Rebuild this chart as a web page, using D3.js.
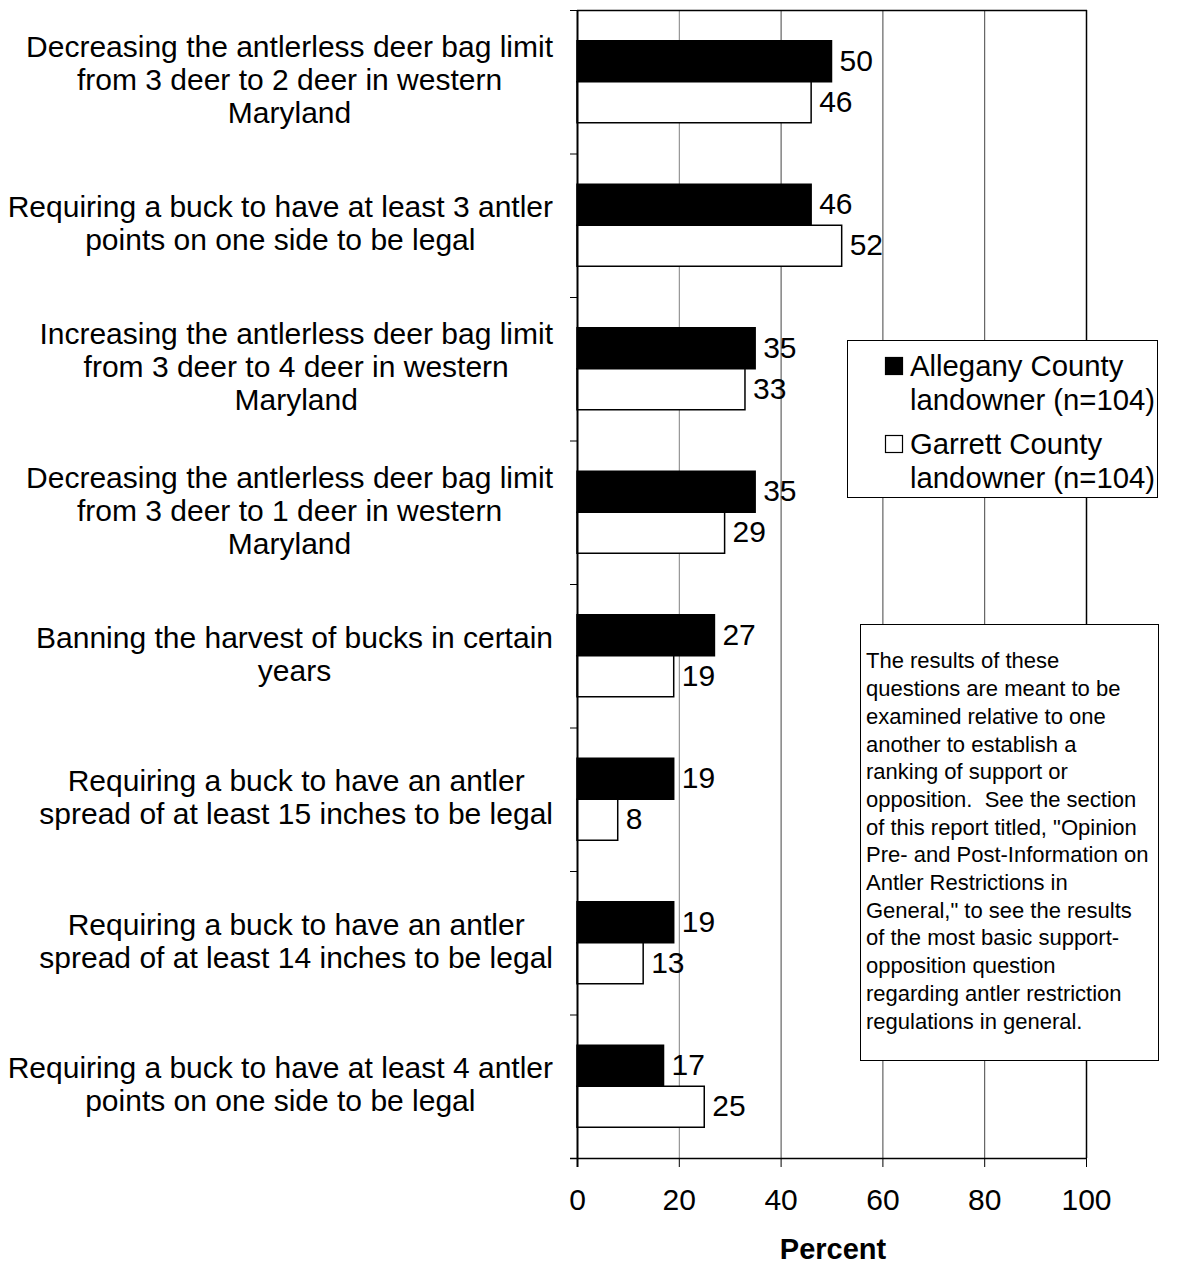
<!DOCTYPE html>
<html>
<head>
<meta charset="utf-8">
<script src="https://cdn.jsdelivr.net/npm/d3@7"></script>
<style>
html,body{margin:0;padding:0;background:#fff;}
svg{display:block;font-family:"Liberation Sans",Arial,sans-serif;}
</style>
</head>
<body>
<svg id="chart" width="1185" height="1264"></svg>
<script>
const categories = [
  ["Decreasing the antlerless deer bag limit","from 3 deer to 2 deer in western","Maryland"],
  ["Requiring a buck to have at least 3 antler","points on one side to be legal"],
  ["Increasing the antlerless deer bag limit","from 3 deer to 4 deer in western","Maryland"],
  ["Decreasing the antlerless deer bag limit","from 3 deer to 1 deer in western","Maryland"],
  ["Banning the harvest of bucks in certain","years"],
  ["Requiring a buck to have an antler","spread of at least 15 inches to be legal"],
  ["Requiring a buck to have an antler","spread of at least 14 inches to be legal"],
  ["Requiring a buck to have at least 4 antler","points on one side to be legal"]
];
const seriesNames = [["Allegany County","landowner (n=104)"],["Garrett County","landowner (n=104)"]];
const allegany = [50, 46, 35, 35, 27, 19, 19, 17];
const garrett  = [46, 52, 33, 29, 19, 8, 13, 25];
const xTicks = [0, 20, 40, 60, 80, 100];
const noteLines = [
  "The results of these",
  "questions are meant to be",
  "examined relative to one",
  "another to establish a",
  "ranking of support or",
  "opposition.  See the section",
  "of this report titled, \"Opinion",
  "Pre- and Post-Information on",
  "Antler Restrictions in",
  "General,\" to see the results",
  "of the most basic support-",
  "opposition question",
  "regarding antler restriction",
  "regulations in general."
];
const xTitle = "Percent";

const svg = d3.select("#chart");
const L = 577, R = 1086, T = 10, B = 1158;
const FS = 30;
const x = d3.scaleLinear().domain([0,100]).range([L,R]);
const y = d3.scaleBand().domain(d3.range(categories.length)).range([T,B]).padding(0);
const ys = d3.scaleBand().domain([0,1]).range([0,y.bandwidth()]).paddingInner(0).paddingOuter(0.75);
const series = [allegany, garrett];
const fills = ["#000","#fff"];

// gridlines
svg.append("g").selectAll("line").data(xTicks.filter(d=>d>0 && d<100)).join("line")
  .attr("x1",d=>x(d)+0.5).attr("x2",d=>x(d)+0.5).attr("y1",T).attr("y2",B)
  .attr("stroke",(d)=>d===20?"#808080":"#444").attr("stroke-width",1);

// plot border top & right
svg.append("line").attr("x1",L).attr("x2",R+1).attr("y1",T+0.5).attr("y2",T+0.5).attr("stroke","#000").attr("stroke-width",1.5);
svg.append("line").attr("x1",R+0.5).attr("x2",R+0.5).attr("y1",T).attr("y2",B).attr("stroke","#000").attr("stroke-width",1.5);

// bars
const g = svg.append("g");
categories.forEach((c,i)=>{
  series.forEach((s,j)=>{
    g.append("rect")
      .attr("x",x(0)).attr("y",y(i)+ys(j))
      .attr("width",x(s[i])-x(0)).attr("height",ys.bandwidth())
      .attr("fill",fills[j]).attr("stroke","#000").attr("stroke-width",1.5);
  });
});

// value labels
categories.forEach((c,i)=>{
  series.forEach((s,j)=>{
    svg.append("text")
      .attr("x",x(s[i])+8).attr("y",y(i)+ys(j)+ys.bandwidth()/2)
      .attr("dy","0.32em").attr("font-size",FS).attr("fill","#000")
      .text(s[i]);
  });
});

// x axis
const xAxis = d3.axisBottom(x).tickValues(xTicks).tickSize(9).tickPadding(22).tickFormat(d3.format("d"));
const ax = svg.append("g").attr("transform",`translate(0,${B})`).call(xAxis);
ax.select(".domain").attr("stroke","#000").attr("stroke-width",1.5).attr("d",`M${L-7},0.5H${R+1}`);
ax.selectAll(".tick line").attr("stroke","#000").attr("stroke-width",1);
ax.selectAll(".tick text").attr("font-size",FS).attr("font-family","Liberation Sans, Arial, sans-serif").attr("fill","#000");

// y axis (left) with ticks at band boundaries
const yb = d3.range(categories.length+1).map(i=> i<categories.length ? y(i) : B);
svg.append("line").attr("x1",L+0.5).attr("x2",L+0.5).attr("y1",T).attr("y2",B+9).attr("stroke","#000").attr("stroke-width",2);
svg.append("g").selectAll("line").data(yb).join("line")
  .attr("x1",L-7).attr("x2",L).attr("y1",d=>d+0.5).attr("y2",d=>d+0.5)
  .attr("stroke","#000").attr("stroke-width",1);

// category labels
const lh = 33, rightEdge = 553;
categories.forEach((lines,i)=>{
  const cy = y(i)+y.bandwidth()/2;
  const grp = svg.append("g");
  const texts = lines.map((t,k)=> grp.append("text").attr("font-size",FS).attr("fill","#000")
      .attr("text-anchor","middle")
      .attr("y", cy + (k-(lines.length-1)/2)*lh).attr("dy","0.28em").text(t));
  const w = d3.max(texts, t=>t.node().getComputedTextLength());
  texts.forEach(t=>t.attr("x", rightEdge - w/2));
});

// x title
svg.append("text").attr("x",833).attr("y",1259).attr("text-anchor","middle")
  .attr("font-size",29).attr("font-weight","bold").text(xTitle);

// legend
const lg = svg.append("g");
lg.append("rect").attr("x",847.5).attr("y",340.5).attr("width",310).attr("height",157)
  .attr("fill","#fff").attr("stroke","#000").attr("stroke-width",1);
seriesNames.forEach((nm,j)=>{
  const y0 = 366 + j*78;
  lg.append("rect").attr("x",885.5).attr("y",y0-8.5).attr("width",17).attr("height",17)
    .attr("fill",fills[j]).attr("stroke","#000").attr("stroke-width",1.2);
  nm.forEach((t,k)=>{
    lg.append("text").attr("x",910).attr("y",y0+k*34).attr("dy","0.33em")
      .attr("font-size",29.3).attr("fill","#000").text(t);
  });
});

// note box
const ng = svg.append("g");
ng.append("rect").attr("x",860.5).attr("y",624.5).attr("width",298).attr("height",436)
  .attr("fill","#fff").attr("stroke","#000").attr("stroke-width",1);
noteLines.forEach((t,k)=>{
  ng.append("text").attr("x",866).attr("y",661+k*27.7).attr("dy","0.34em")
    .attr("font-size",22).attr("fill","#000").attr("xml:space","preserve").style("white-space","pre").text(t);
});
</script>
</body>
</html>
